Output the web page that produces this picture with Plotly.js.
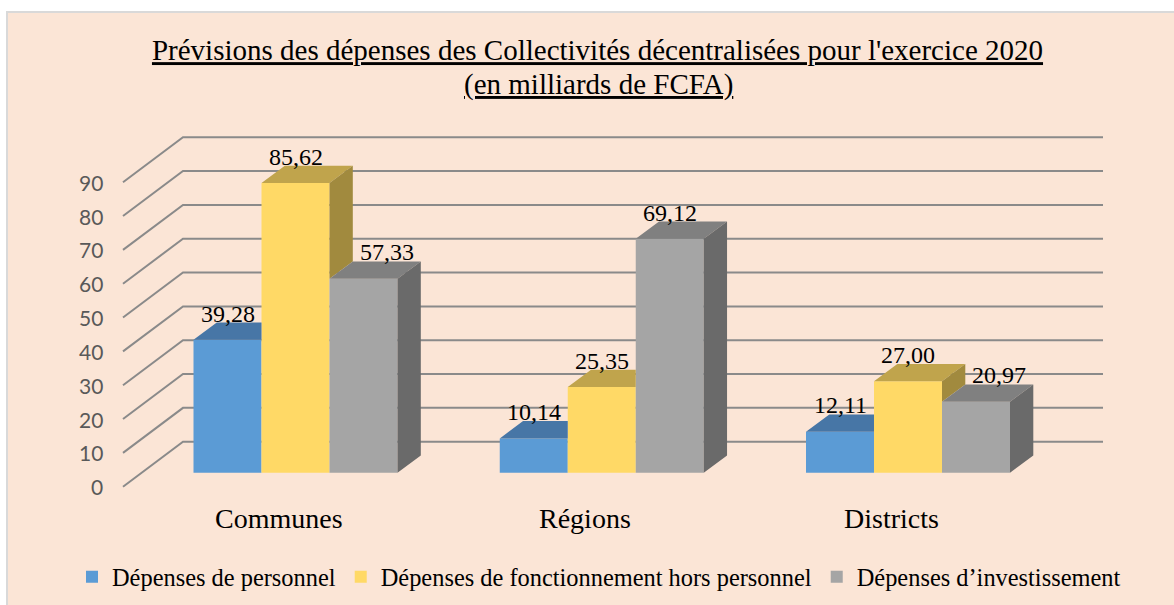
<!DOCTYPE html>
<html><head><meta charset="utf-8">
<script src="https://cdn.plot.ly/plotly-3.0.1.min.js"></script>
<style>html,body{margin:0;padding:0;background:#fff}#chart{width:1174px;height:605px}</style>
</head><body><div id="chart"></div>
<script>
// ---- data ----
const categories = ['Communes', 'Régions', 'Districts'];
const seriesNames = ['Dépenses de personnel', 'Dépenses de fonctionnement hors personnel', 'Dépenses d\u2019investissement'];
const personnel = [39.28, 10.14, 12.11];
const fonctionnement = [85.62, 25.35, 27.00];
const investissement = [57.33, 69.12, 20.97];
const valueLabels = [['39,28', '10,14', '12,11'], ['85,62', '25,35', '27,00'], ['57,33', '69,12', '20,97']];
const yTicks = [0, 10, 20, 30, 40, 50, 60, 70, 80, 90];
const titleLines = ['Prévisions des dépenses des Collectivités décentralisées pour l\'exercice 2020', '(en milliards de FCFA)'];

// ---- style / geometry ----
const W = 1174, H = 605;
const PXC = 306.25;      // px per category step
const X0 = 295.5;        // px of first category centre
const Y0 = 472.7;        // px of value 0 on bar fronts
const S = 3.383;         // px per value unit
const BAR_W = 68 / PXC;
const DX = 23.3 / PXC, DY = 17.3 / S;          // bar depth
const px2x = p => (p - X0) / PXC;
const dpx = p => p / PXC;
const frontC = ['#5B9BD5', '#FFD966', '#A5A5A5'];
const topC = ['#4776A6', '#C0A44C', '#808080'];
const sideC = ['#3D6590', '#A18A3E', '#6A6A6A'];
const gridColor = '#8A8A8A';
const serif = 'Liberation Serif, Times New Roman, serif';

const series = [personnel, fonctionnement, investissement];
const traces = [];

// front faces (bars)
series.forEach((vals, k) => {
  traces.push({
    type: 'bar', name: seriesNames[k], x: categories.map((c, i) => i), y: vals,
    width: BAR_W, offset: (k - 1.5) * BAR_W,
    marker: {color: frontC[k], line: {width: 0}}, hoverinfo: 'skip'
  });
});

// top and side faces
series.forEach((vals, k) => {
  const tx = [], ty = [], sx = [], sy = [];
  vals.forEach((h, i) => {
    const xl = i + (k - 1.5) * BAR_W, xr = xl + BAR_W;
    const next = k < series.length - 1 ? series[k + 1][i] : null;
    const kk = next === null ? 0 : Math.max(0, Math.min(1, (next - h) / DY));
    tx.push(xl, xr, xr, xr + kk * DX, xr + DX, xl + DX, xl, null);
    ty.push(h, h, h + kk * DY, h + kk * DY, h + DY, h + DY, h, null);
    const lo = next === null ? 0 : next;
    if (lo < h) {
      sx.push(xr, xr + DX, xr + DX, xr, xr, null);
      sy.push(lo, lo + DY, h + DY, h, lo, null);
    }
  });
  traces.push({type: 'scatter', mode: 'lines', x: tx, y: ty, fill: 'toself', fillcolor: topC[k],
    line: {width: 0, color: topC[k]}, showlegend: false, hoverinfo: 'skip'});
  if (sx.length) traces.push({type: 'scatter', mode: 'lines', x: sx, y: sy, fill: 'toself', fillcolor: sideC[k],
    line: {width: 0, color: sideC[k]}, showlegend: false, hoverinfo: 'skip'});
});

// shapes: background + back wall gridlines
const shapes = [{type: 'rect', xref: 'paper', yref: 'paper', x0: 7 / W, x1: 1.01, y0: -0.01, y1: 1 - 12 / H,
  fillcolor: '#FBE5D6', line: {color: '#D9D9D9', width: 2}, layer: 'below'}];
yTicks.forEach(v => {
  const yf = v - 14 / S, yb = v + 31 / S;
  shapes.push({type: 'path', xref: 'x', yref: 'y', layer: 'below',
    path: `M${px2x(123)},${yf} L${px2x(183)},${yb} L${px2x(1103)},${yb}`,
    line: {color: gridColor, width: 2}});
});

// annotations
const annotations = [];
annotations.push({xref: 'paper', yref: 'paper', x: 598 / W, y: 1 - 84 / H, xanchor: 'center', yanchor: 'middle',
  text: '<u>' + titleLines[1] + '</u>', showarrow: false, font: {family: serif, size: 29, color: '#000'}});
yTicks.forEach(v => annotations.push({x: px2x(104.5), y: v - 14 / S, xref: 'x', yref: 'y', text: String(v),
  showarrow: false, xanchor: 'right', yanchor: 'middle', font: {family: 'Lato, Carlito, sans-serif', size: 21, color: '#595959'}}));
categories.forEach((c, i) => annotations.push({x: i + dpx(-17), y: (Y0 - 518.3) / S, xref: 'x', yref: 'y', text: c,
  showarrow: false, xanchor: 'center', yanchor: 'middle', font: {family: serif, size: 28, color: '#000'}}));
series.forEach((vals, k) => vals.forEach((h, i) => {
  const prevTaller = k > 0 && series[k - 1][i] > h;
  annotations.push({x: i + (k - 1) * BAR_W + (prevTaller ? DX : 0), y: h + DY, xref: 'x', yref: 'y',
    text: valueLabels[k][i], showarrow: false, xanchor: 'center', yanchor: 'bottom', yshift: -6,
    font: {family: serif, size: 24, color: '#000'}});
}));

const layout = {
  width: W, height: H, margin: {l: 0, r: 0, t: 0, b: 0},
  paper_bgcolor: '#FFFFFF', plot_bgcolor: 'rgba(0,0,0,0)',
  barmode: 'overlay',
  title: {text: '<u>' + titleLines[0] + '</u>',
    font: {family: serif, size: 29, color: '#000'}, x: 597.5 / W, xanchor: 'center', y: 1 - 50 / H, yanchor: 'middle'},
  xaxis: {range: [px2x(0), px2x(W)], visible: false, fixedrange: true},
  yaxis: {range: [(Y0 - H) / S, Y0 / S], visible: false, fixedrange: true},
  showlegend: true,
  legend: {orientation: 'h', x: 599 / W, xanchor: 'center', y: (H - 577) / H, yanchor: 'middle',
    font: {family: serif, size: 24.4, color: '#000'}, bgcolor: 'rgba(0,0,0,0)', traceorder: 'normal'},
  shapes: shapes, annotations: annotations
};
Plotly.newPlot('chart', traces, layout, {displayModeBar: false, staticPlot: true});
</script></body></html>
